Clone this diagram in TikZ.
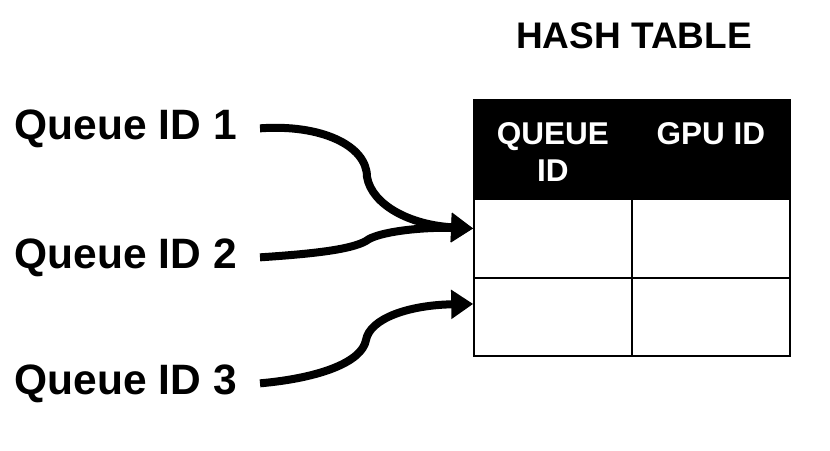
\documentclass[tikz,border=0pt]{standalone}
\usepackage{fontspec}
\setmainfont{Liberation Sans}
\usetikzlibrary{arrows.meta,matrix,positioning}

\begin{document}
\begin{tikzpicture}[x=1pt, y=1pt, every node/.style={font=\bfseries},
	qlabel/.style={font=\bfseries\fontsize{42.5}{48}\selectfont, inner sep=0pt, anchor=base east},
	headtxt/.style={font=\bfseries\fontsize{31.5}{37}\selectfont, text=white, align=center, inner sep=0pt},
	flow/.style={line width=8pt, -{Triangle[length=22pt, width=28pt]}}]
	\useasboundingbox (0,0) rectangle (830,-450);
	\node[font=\bfseries\fontsize{37}{40}\selectfont, anchor=base] (title) at (634,-48) {HASH TABLE};
	\matrix (T) [matrix of nodes, nodes in empty cells, inner sep=0pt, anchor=north west, column sep=-1.5pt, row sep=-1.5pt,
		nodes={draw, line width=1.5pt, minimum width=158pt, inner sep=0pt, anchor=center}] at (473,-99) {
		|[fill=black, minimum height=99pt]| {} & |[fill=black, minimum height=99pt]| {} \\
		|[minimum height=79pt]| {} & |[minimum height=79pt]| {} \\
		|[minimum height=78pt]| {} & |[minimum height=78pt]| {} \\
	};
	\node[headtxt, below=23pt of T-1-1.north] (hq) {QUEUE\\ID};
	\node[headtxt, below=23pt of T-1-2.north] (hg) {GPU ID};
	\node[qlabel] (q1) at (237,-139) {Queue ID 1};
	\node[qlabel] (q2) at (237,-268) {Queue ID 2};
	\node[qlabel] (q3) at (237,-394) {Queue ID 3};
	\coordinate (k1) at (367,-177);
	\coordinate (k2) at (366,-241);
	\coordinate (k3) at (366,-340);
	\coordinate (in1) at ([yshift=10pt]T-2-1.west);
	\coordinate (in2) at ([yshift=13pt]T-3-1.west);
	\draw[flow] ([xshift=23pt]q1.east) .. controls (320,-124) and (367,-145) .. (k1)
		.. controls (372,-205) and (410,-225) .. (in1);
	\draw[flow] ([xshift=23pt]q2.east) .. controls (310,-254) and (350,-250) .. (k2)
		.. controls (377,-232) and (420,-227) .. (in1);
	\draw[flow] ([xshift=23pt]q3.east) .. controls (320,-378) and (362,-362) .. (k3)
		.. controls (370,-318) and (410,-305) .. (in2);
\end{tikzpicture}
\end{document}
